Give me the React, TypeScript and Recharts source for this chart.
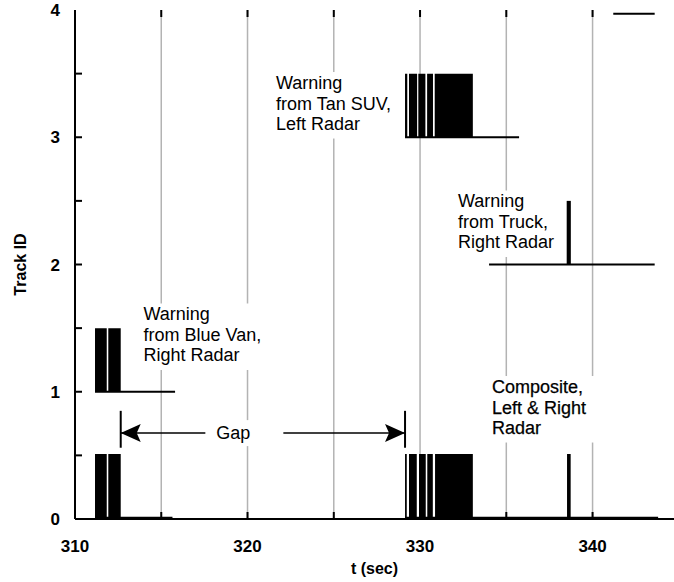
import React from "react";
import {
  ComposedChart,
  Area,
  Line,
  XAxis,
  YAxis,
  CartesianGrid,
  ReferenceLine,
  ReferenceDot,
} from "recharts";

// warning bursts per track, [start, end] in seconds
const track0Bursts: [number, number][] = [
  [311.16, 311.84],
  [311.93, 312.65],
  [329.13, 329.23],
  [329.36, 329.81],
  [329.94, 330.33],
  [330.42, 330.74],
  [330.87, 333.06],
  [338.52, 338.73],
];
const track1Bursts: [number, number][] = [
  [311.16, 311.84],
  [311.93, 312.65],
];
const track2Bursts: [number, number][] = [[338.5, 338.74]];
const track3Bursts: [number, number][] = [
  [329.13, 329.26],
  [329.36, 329.83],
  [329.9, 330.31],
  [330.41, 330.75],
  [330.85, 333.06],
];

// time spans where each track is alive (idle level)
const track0Idle: [number, number][] = [
  [311.16, 315.65],
  [329.13, 343.8],
];
const track1Idle: [number, number][] = [[311.16, 315.8]];
const track2Idle: [number, number][] = [[334.0, 343.6]];
const track3Idle: [number, number][] = [[329.13, 335.74]];
const track4Idle: [number, number][] = [[341.2, 343.6]];

const trackLevels = [0.01, 1, 2, 3, 3.97];
const burstHeight = 0.5;

const xMin = 310;
const xMax = 344.72;
const yMin = 0;
const yMax = 4;
const xTicks = [310, 315, 320, 325, 330, 335, 340];
const xLabelTicks = [310, 320, 330, 340];
const yTicks = [0.5, 1, 1.5, 2, 2.5, 3, 3.5];
const yLabelTicks = [0, 1, 2, 3, 4];

// gap between the two composite warnings
const gapStart = 312.65;
const gapEnd = 329.13;
const gapLevel = 0.675;
const gapBarLow = 0.56;
const gapBarHigh = 0.85;

const notes = [
  { t: 313.97, y: 1.56, lines: ["Warning", "from Blue Van,", "Right Radar"], dark: false },
  { t: 321.65, y: 3.379, lines: ["Warning", "from Tan SUV,", "Left Radar"], dark: false },
  { t: 332.2, y: 2.448, lines: ["Warning", "from Truck,", "Right Radar"], dark: false },
  { t: 334.17, y: 0.99, lines: ["Composite,", "Left & Right", "Radar"], dark: true },
];

const bursts = [track0Bursts, track1Bursts, track2Bursts, track3Bursts];
const idles = [track0Idle, track1Idle, track2Idle, track3Idle, track4Idle];

const toSteps = (list: [number, number][], base: number) =>
  list.flatMap(([s, e]) => [
    { t: s, v: base + burstHeight },
    { t: e, v: base },
  ]);

const FONT = '"Liberation Sans", Arial, Helvetica, sans-serif';
const LINE_H = 20.5;
const TICK_LEN = 7;

const tickFont = { fill: "#000", fontSize: 17, fontWeight: "bold", fontFamily: FONT };

// short inward tick marks, drawn from the axis point inward
const YTickMark = (p: any) => {
  const { x1, y1 } = p;
  return (
    <path d={`M${x1},${y1}h${TICK_LEN}`} stroke="#000" strokeWidth={2} fill="none" />
  );
};
const UpTick = (p: any) => (
  <path d={`M${p.cx},${p.cy}v${-TICK_LEN}`} stroke="#000" strokeWidth={2} fill="none" />
);
const DownTick = (p: any) => (
  <path d={`M${p.cx},${p.cy}v${TICK_LEN}`} stroke="#000" strokeWidth={2} fill="none" />
);

const Note = (props: any) => {
  const { cx, cy, lines, dark } = props;
  const longest = Math.max(...lines.map((l: string) => l.length));
  const w = longest * 18 * 0.53 + 6;
  return (
    <g>
      <rect
        x={cx - 3}
        y={cy - 17}
        width={w}
        height={lines.length * LINE_H + 5}
        fill="#fff"
      />
      <text
        fontFamily={FONT}
        fontSize={18}
        fill="#000"
        stroke={dark ? "#000" : "none"}
        strokeWidth={dark ? 0.25 : 0}
      >
        {lines.map((l: string, i: number) => (
          <tspan key={i} x={cx} y={cy + i * LINE_H}>
            {l}
          </tspan>
        ))}
      </text>
    </g>
  );
};

const GapLabel = (props: any) => {
  const { cx, cy } = props;
  return (
    <g>
      <rect x={cx - 42} y={cy - 13} width={78} height={26} fill="#fff" />
      <text
        x={cx - 14}
        y={cy + 6}
        textAnchor="middle"
        fontFamily={FONT}
        fontSize={18}
        fill="#000"
      >
        Gap
      </text>
    </g>
  );
};

const GapArrow = (props: any) => {
  const { x1, y1, x2, y2 } = props;
  return (
    <g>
      <line x1={x1} y1={y1} x2={x2} y2={y2} stroke="#000" strokeWidth={1.5} />
      <polygon
        points={`${x1},${y1} ${x1 + 20},${y1 - 9} ${x1 + 16},${y1} ${x1 + 20},${y1 + 9}`}
        fill="#000"
      />
      <polygon
        points={`${x2},${y2} ${x2 - 20},${y2 - 9} ${x2 - 16},${y2} ${x2 - 20},${y2 + 9}`}
        fill="#000"
      />
    </g>
  );
};

export default function App() {
  return (
    <div
      style={{
        position: "absolute",
        left: 0,
        top: 0,
        width: 674,
        height: 582,
        background: "#fff",
        fontFamily: FONT,
      }}
    >
      <ComposedChart
        width={674}
        height={582}
        margin={{ top: 10, right: 0, bottom: 0, left: 0 }}
      >
        <CartesianGrid
          vertical
          horizontal={false}
          verticalValues={xTicks}
          stroke="#b3b3b3"
          strokeWidth={1.5}
        />
        <XAxis
          dataKey="t"
          type="number"
          domain={[xMin, xMax]}
          ticks={xLabelTicks}
          interval={0}
          allowDataOverflow
          height={63}
          tickSize={0}
          tickMargin={21}
          tickLine={false}
          tick={tickFont}
          axisLine={{ stroke: "#000", strokeWidth: 2 }}
          label={{
            value: "t (sec)",
            position: "insideBottom",
            offset: 8,
            fill: "#000",
            fontSize: 16,
            fontWeight: "bold",
            fontFamily: FONT,
          }}
        />
        <XAxis
          xAxisId="top"
          orientation="top"
          dataKey="t"
          type="number"
          domain={[xMin, xMax]}
          allowDataOverflow
          height={0}
          tick={false}
          tickLine={false}
          axisLine={{ stroke: "#000", strokeWidth: 2 }}
        />
        <YAxis
          type="number"
          domain={[yMin, yMax]}
          ticks={yLabelTicks}
          interval={0}
          allowDataOverflow
          width={75}
          tickSize={0}
          tickMargin={15}
          tickLine={false}
          tick={tickFont}
          axisLine={{ stroke: "#000", strokeWidth: 2 }}
          label={{
            value: "Track ID",
            angle: -90,
            position: "insideLeft",
            offset: 20,
            fill: "#000",
            fontSize: 16,
            fontWeight: "bold",
            fontFamily: FONT,
            style: { textAnchor: "middle" },
          }}
        />

        {yTicks.map((v) => (
          <ReferenceLine
            key={"yt" + v}
            segment={[
              { x: xMin, y: v },
              { x: xMin + 1, y: v },
            ]}
            ifOverflow="visible"
            shape={YTickMark}
          />
        ))}
        {xTicks.map((t) => (
          <ReferenceDot key={"xb" + t} x={t} y={yMin} ifOverflow="visible" shape={UpTick} />
        ))}
        {xTicks.map((t) => (
          <ReferenceDot key={"xt" + t} x={t} y={yMax} ifOverflow="visible" shape={DownTick} />
        ))}

        {notes.map((n, i) => (
          <ReferenceDot
            key={"note" + i}
            x={n.t}
            y={n.y}
            ifOverflow="visible"
            shape={(p: any) => <Note {...p} lines={n.lines} dark={n.dark} />}
          />
        ))}

        {bursts.map((b, i) => (
          <Area
            key={"burst" + i}
            data={toSteps(b, trackLevels[i])}
            dataKey="v"
            type="stepAfter"
            baseValue={trackLevels[i]}
            stroke="none"
            fill="#000"
            fillOpacity={1}
            dot={false}
            activeDot={false}
            isAnimationActive={false}
          />
        ))}

        {idles.flatMap((segs, i) =>
          segs.map(([s, e], j) => (
            <Line
              key={`idle${i}-${j}`}
              data={[
                { t: s, v: trackLevels[i] },
                { t: e, v: trackLevels[i] },
              ]}
              dataKey="v"
              stroke="#000"
              strokeWidth={2}
              dot={false}
              activeDot={false}
              isAnimationActive={false}
            />
          ))
        )}

        <ReferenceLine
          segment={[
            { x: gapStart, y: gapBarLow },
            { x: gapStart, y: gapBarHigh },
          ]}
          stroke="#000"
          strokeWidth={2}
        />
        <ReferenceLine
          segment={[
            { x: gapEnd, y: gapBarLow },
            { x: gapEnd, y: gapBarHigh },
          ]}
          stroke="#000"
          strokeWidth={2}
        />
        <ReferenceLine
          segment={[
            { x: gapStart, y: gapLevel },
            { x: gapEnd, y: gapLevel },
          ]}
          shape={GapArrow}
        />
        <ReferenceDot
          x={(gapStart + gapEnd) / 2 - 0.9}
          y={gapLevel}
          ifOverflow="visible"
          shape={GapLabel}
        />
      </ComposedChart>
    </div>
  );
}
